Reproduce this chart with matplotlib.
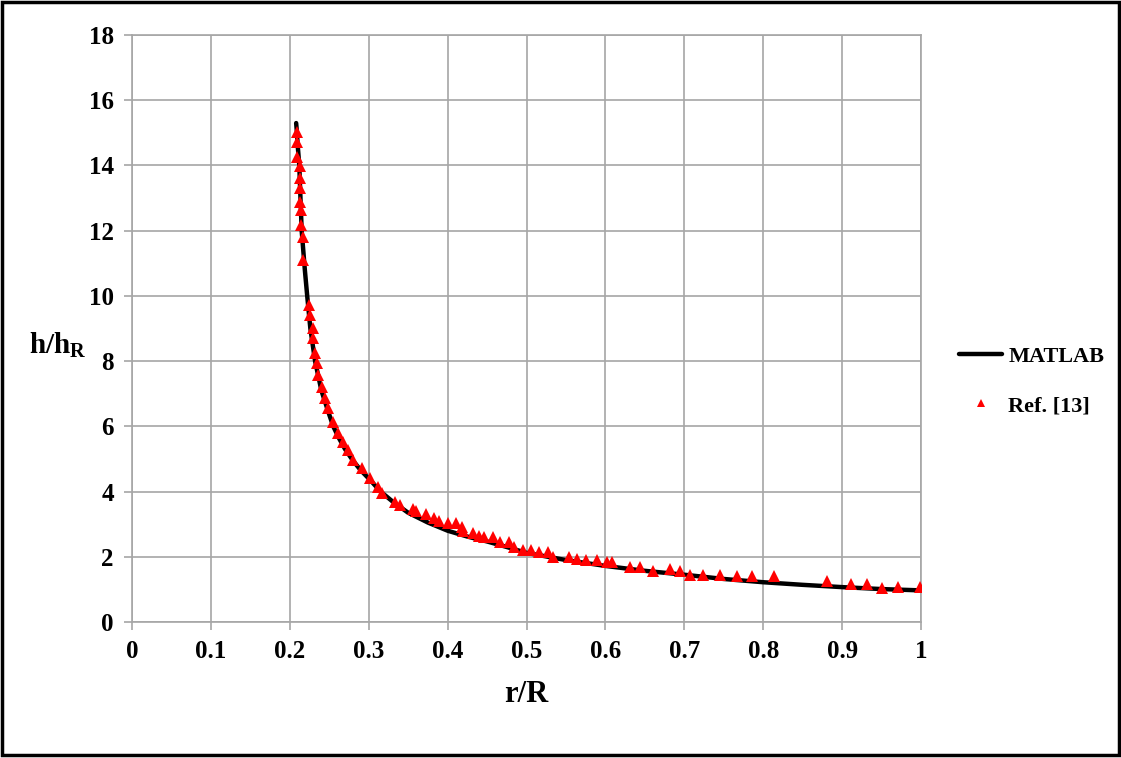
import numpy as np
import matplotlib
matplotlib.use('Agg')
import matplotlib.pyplot as plt
from matplotlib.patches import Rectangle

# MATLAB curve
r_matlab = [0.208, 0.209, 0.210, 0.211, 0.212, 0.213, 0.215, 0.217, 0.219, 0.222,
            0.226, 0.232, 0.240, 0.248, 0.255, 0.262, 0.270, 0.280, 0.290, 0.302,
            0.315, 0.330, 0.350, 0.375, 0.400, 0.425, 0.450, 0.475, 0.500, 0.550,
            0.600, 0.650, 0.700, 0.750, 0.800, 0.850, 0.900, 0.950, 1.000]
h_matlab = [15.3, 15.0, 14.6, 14.3, 14.0, 13.3, 12.0, 11.4, 10.8, 10.0,
            9.0, 8.0, 7.1, 6.5, 6.0, 5.65, 5.3, 4.95, 4.65, 4.35,
            4.0, 3.7, 3.35, 3.05, 2.80, 2.62, 2.47, 2.30, 2.12, 1.90,
            1.72, 1.57, 1.45, 1.32, 1.22, 1.14, 1.07, 1.01, 0.97]

# Ref. [13] points
r_ref = [0.2096, 0.2096, 0.2096, 0.2129, 0.2129, 0.2129, 0.2129, 0.2142, 0.2142, 0.2170,
         0.2170, 0.2247, 0.2256, 0.2290, 0.2290, 0.2320, 0.2340, 0.2360, 0.2405, 0.2446,
         0.2488, 0.2550, 0.2615, 0.2678, 0.2740, 0.2805, 0.2910, 0.3017, 0.3122, 0.3164,
         0.3333, 0.3400, 0.3556, 0.3600, 0.3724, 0.3822, 0.3889, 0.4000, 0.4111, 0.4178,
         0.4200, 0.4320, 0.4400, 0.4467, 0.4578, 0.4667, 0.4778, 0.4844, 0.4956, 0.5058,
         0.5156, 0.5267, 0.5333, 0.5542, 0.5644, 0.5756, 0.5889, 0.6022, 0.6089, 0.6311,
         0.6444, 0.6600, 0.6822, 0.6947, 0.7067, 0.7236, 0.7453, 0.7667, 0.7858, 0.8133,
         0.8809, 0.9111, 0.9311, 0.9511, 0.9711, 0.9991]
h_ref = [15.04, 14.73, 14.27, 13.97, 13.61, 13.30, 12.89, 12.64, 12.18, 11.82,
         11.10, 9.72, 9.42, 9.01, 8.70, 8.24, 7.94, 7.58, 7.22, 6.86,
         6.55, 6.14, 5.79, 5.53, 5.28, 4.97, 4.71, 4.41, 4.15, 3.95,
         3.67, 3.60, 3.47, 3.39, 3.31, 3.19, 3.11, 3.03, 3.03, 2.91,
         2.80, 2.73, 2.65, 2.62, 2.62, 2.44, 2.44, 2.31, 2.22, 2.22,
         2.14, 2.15, 2.00, 2.00, 1.93, 1.91, 1.91, 1.85, 1.85, 1.70,
         1.69, 1.55, 1.62, 1.55, 1.45, 1.45, 1.45, 1.42, 1.42, 1.42,
         1.26, 1.16, 1.16, 1.04, 1.08, 1.06]

xticks = [0, 0.1, 0.2, 0.3, 0.4, 0.5, 0.6, 0.7, 0.8, 0.9, 1]
xlabels = ['0', '0.1', '0.2', '0.3', '0.4', '0.5', '0.6', '0.7', '0.8', '0.9', '1']
yticks = [0, 2, 4, 6, 8, 10, 12, 14, 16, 18]

plt.rcParams['font.family'] = ['Liberation Serif', 'DejaVu Serif']
plt.rcParams['font.weight'] = 'bold'

fig = plt.figure(figsize=(11.21, 7.58), dpi=100)
ax = fig.add_axes([0.1178, 0.1794, 0.7038, 0.7744])

gray = '#a6a6a6'
ax.plot(r_matlab, h_matlab, color='black', lw=3.2, label='MATLAB', zorder=3,
        solid_capstyle='round')
ax.plot(r_ref, h_ref, ls='none', marker='^', color='#ff0000', ms=8,
        markeredgewidth=0, label='Ref. [13]', zorder=4)

ax.set_xlim(0, 1)
ax.set_ylim(0, 18)
ax.set_xticks(xticks)
ax.set_xticklabels(xlabels)
ax.set_yticks(yticks)
ax.grid(True, color=gray, lw=1.2)
ax.set_axisbelow(True)
for s in ax.spines.values():
    s.set_color(gray)
    s.set_linewidth(1.2)
ax.tick_params(direction='out', length=6, width=1.2, color=gray,
               labelsize=18, pad=7)
for lab in ax.get_xticklabels() + ax.get_yticklabels():
    lab.set_fontweight('bold')

ax.set_xlabel('r/R', fontsize=22, fontweight='bold', labelpad=12)
fig.text(0.026, 0.545, r'h/h$_\mathregular{R}$', fontsize=21, fontweight='bold',
         va='center', ha='left')

leg = fig.legend(loc='center left', bbox_to_anchor=(0.838, 0.497), frameon=False,
                 fontsize=16, handlelength=1.9, handletextpad=0.3,
                 labelspacing=1.3, markerscale=0.7)
for t in leg.get_texts():
    t.set_fontweight('bold')

# outer frame
fig.patches.append(Rectangle((0.002, 0.004), 0.996, 0.994, transform=fig.transFigure,
                             fill=False, edgecolor='black', lw=2.5))

fig.savefig('out.png', dpi=100)
